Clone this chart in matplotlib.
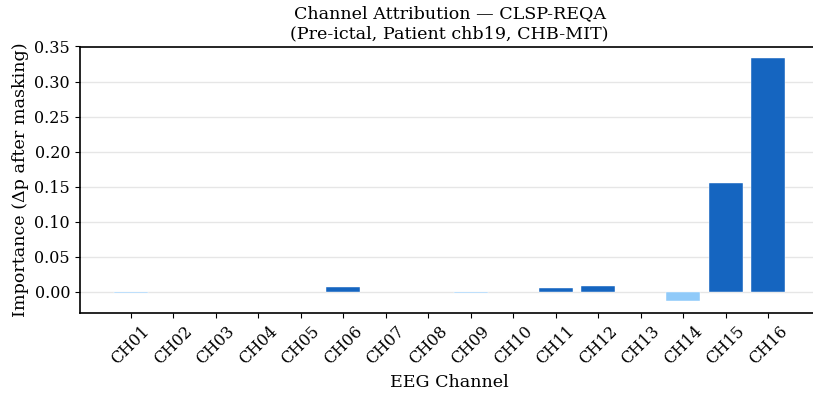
import matplotlib
matplotlib.use("Agg")
import matplotlib.pyplot as plt
import numpy as np

plt.rcParams['font.family'] = ['DejaVu Serif']

channels = ["CH01", "CH02", "CH03", "CH04", "CH05", "CH06", "CH07", "CH08",
            "CH09", "CH10", "CH11", "CH12", "CH13", "CH14", "CH15", "CH16"]
importance = [-0.001, 0.0, 0.0, 0.0, 0.0, 0.007, 0.0, 0.0,
              -0.001, 0.0, 0.005, 0.008, 0.0, -0.013, 0.155, 0.334]

pos_color = "#1565C0"
neg_color = "#90CAF9"
colors = [pos_color if v > 0 else neg_color for v in importance]
edges = ["white" if v != 0 else "none" for v in importance]

fig = plt.figure(figsize=(8.13, 3.94), dpi=100)
ax = fig.add_axes([80/813, 81/394, 739/813, 266.5/394])
x = np.arange(len(channels))
ax.bar(x, importance, width=0.8, color=colors, edgecolor=edges, linewidth=0.3, zorder=3)
ax.set_xticks(x)
ax.set_xticklabels(channels, rotation=45, ha="center", fontsize=11.5)
ax.tick_params(axis="y", labelsize=11.5)
ax.tick_params(length=3.7)
ax.set_ylim(-0.03, 0.35)
ax.set_xlim(-1.19, 16.19)
ax.yaxis.grid(True, color="#e6e6e6", linewidth=1, zorder=0)
ax.set_axisbelow(True)
for s in ["top", "left", "bottom", "right"]:
    ax.spines[s].set_linewidth(1.2)
ax.set_xlabel("EEG Channel", fontsize=12.6)
ax.set_ylabel("Importance (Δp after masking)", fontsize=12.6)
ax.set_title("Channel Attribution — CLSP-REQA\n(Pre-ictal, Patient chb19, CHB-MIT)", fontsize=12.6)
fig.savefig("out.png", dpi=100)
